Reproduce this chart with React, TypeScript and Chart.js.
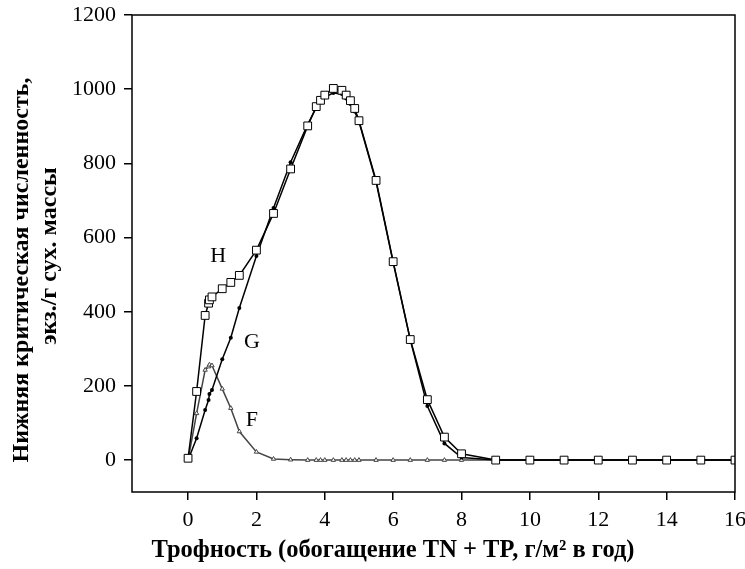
import React, { useEffect, useRef } from "react";
import { Chart, registerables } from "chart.js";

Chart.register(...registerables);

const xValues = [0, 0.25, 0.5, 0.6, 0.625, 0.7, 1.0, 1.25, 1.5, 2.0, 2.5, 3.0, 3.5, 3.75, 3.875, 4.0, 4.25, 4.5, 4.625, 4.75, 4.875, 5.0, 5.5, 6.0, 6.5, 7.0, 7.5, 8.0, 9, 10, 11, 12, 13, 14, 15, 16];
const seriesH = [5, 185, 390, 423, 432, 440, 462, 479, 498, 566, 665, 785, 901, 953, 970, 984, 1002, 997, 984, 969, 948, 915, 754, 535, 325, 163, 62, 17, 0, 0, 0, 0, 0, 0, 0, 0];
const seriesG = [0, 59, 135, 162, 178, 189, 272, 330, 410, 550, 680, 803, 905, 950, 965, 978, 990, 987, 975, 960, 940, 912, 750, 533, 325, 146, 45, 7, 0, 0, 0, 0, 0, 0, 0, 0];
const seriesF = [0, 126, 243, 252, 257, 255, 192, 140, 77, 22, 3, 1, 0, 0, 0, 0, 0, 0, 0, 0, 0, 0, 0, 0, 0, 0, 0, 0, 0, 0, 0, 0, 0, 0, 0, 0];
const xTicks = [0, 2, 4, 6, 8, 10, 12, 14, 16];
const yTicks = [0, 200, 400, 600, 800, 1000, 1200];
const seriesLabels = [
  { text: "H", x: 0.88, y: 549 },
  { text: "G", x: 1.87, y: 319 },
  { text: "F", x: 1.87, y: 108 },
];
const xTitle = "Трофность (обогащение TN + TP, г/м² в год)";
const yTitle = ["Нижняя критическая численность,", "экз./г сух. массы"];

const toPoints = (ys: number[]) => ys.map((y, i) => ({ x: xValues[i], y }));

const FONT = "'Liberation Serif', 'Times New Roman', serif";

const decorPlugin = {
  id: "decor",
  afterDraw(chart: any) {
    const { ctx, chartArea, scales } = chart;
    ctx.save();
    ctx.strokeStyle = "#000";
    ctx.lineWidth = 1.5;
    ctx.strokeRect(chartArea.left, chartArea.top, chartArea.right - chartArea.left, chartArea.bottom - chartArea.top);
    ctx.fillStyle = "#000";
    ctx.textAlign = "center";
    ctx.textBaseline = "middle";
    ctx.font = `22px ${FONT}`;
    for (const l of seriesLabels) {
      ctx.fillText(l.text, scales.x.getPixelForValue(l.x), scales.y.getPixelForValue(l.y));
    }
    ctx.font = `bold 24.5px ${FONT}`;
    ctx.fillText(xTitle, 393, 551);
    ctx.font = `bold 24px ${FONT}`;
    ctx.save();
    ctx.translate(22, 270);
    ctx.rotate(-Math.PI / 2);
    ctx.fillText(yTitle[0], 0, 0);
    ctx.restore();
    ctx.save();
    ctx.translate(50, 256);
    ctx.rotate(-Math.PI / 2);
    ctx.fillText(yTitle[1], 0, 0);
    ctx.restore();
    ctx.restore();
  },
};

export default function App() {
  const ref = useRef<HTMLCanvasElement>(null);
  useEffect(() => {
    if (!ref.current) return;
    const chart = new Chart(ref.current, {
      type: "line",
      data: {
        datasets: [
          {
            label: "H",
            data: toPoints(seriesH),
            borderColor: "#000",
            borderWidth: 1.5,
            pointStyle: "rect",
            pointRadius: 5.5,
            pointBackgroundColor: "#fff",
            pointBorderColor: "#000",
            pointBorderWidth: 1,
            tension: 0,
          },
          {
            label: "G",
            data: toPoints(seriesG),
            borderColor: "#000",
            borderWidth: 1.5,
            pointStyle: "circle",
            pointRadius: 2,
            pointBackgroundColor: "#000",
            pointBorderColor: "#000",
            pointBorderWidth: 0,
            tension: 0,
          },
          {
            label: "F",
            data: toPoints(seriesF),
            borderColor: "#444",
            borderWidth: 1.5,
            pointStyle: "triangle",
            pointRadius: 2.5,
            pointBackgroundColor: "#fff",
            pointBorderColor: "#444",
            pointBorderWidth: 1,
            tension: 0,
          },
        ],
      },
      options: {
        animation: false,
        responsive: false,
        layout: { padding: { top: 15, right: 10, left: 0, bottom: 0 } },
        plugins: { legend: { display: false }, tooltip: { enabled: false } },
        scales: {
          x: {
            type: "linear",
            min: -1.64,
            max: 16,
            afterBuildTicks: (s: any) => {
              s.ticks = xTicks.map((v) => ({ value: v }));
            },
            afterFit: (s: any) => {
              s.height = 77;
              s.paddingLeft = 0;
              s.paddingRight = 0;
            },
            grid: { display: true, drawOnChartArea: false, drawTicks: true, tickLength: 8, color: "#000", lineWidth: 1.5 },
            border: { display: false },
            ticks: { color: "#000", font: { family: FONT, size: 22 }, padding: 7, maxRotation: 0, autoSkip: false, callback: (v: any) => String(v) },
          },
          y: {
            type: "linear",
            min: -86,
            max: 1200,
            afterBuildTicks: (s: any) => {
              s.ticks = yTicks.map((v) => ({ value: v }));
            },
            afterFit: (s: any) => {
              s.width = 132;
              s.paddingTop = 0;
              s.paddingBottom = 0;
            },
            grid: { display: true, drawOnChartArea: false, drawTicks: true, tickLength: 8, color: "#000", lineWidth: 1.5 },
            border: { display: false },
            ticks: { color: "#000", font: { family: FONT, size: 22 }, padding: 8, autoSkip: false, callback: (v: any) => String(v) },
          },
        },
      },
      plugins: [decorPlugin],
    });
    return () => chart.destroy();
  }, []);
  return (
    <div style={{ position: "fixed", left: 0, top: 0, width: 745, height: 569, background: "#fff" }}>
      <canvas ref={ref} width={745} height={569} />
    </div>
  );
}
